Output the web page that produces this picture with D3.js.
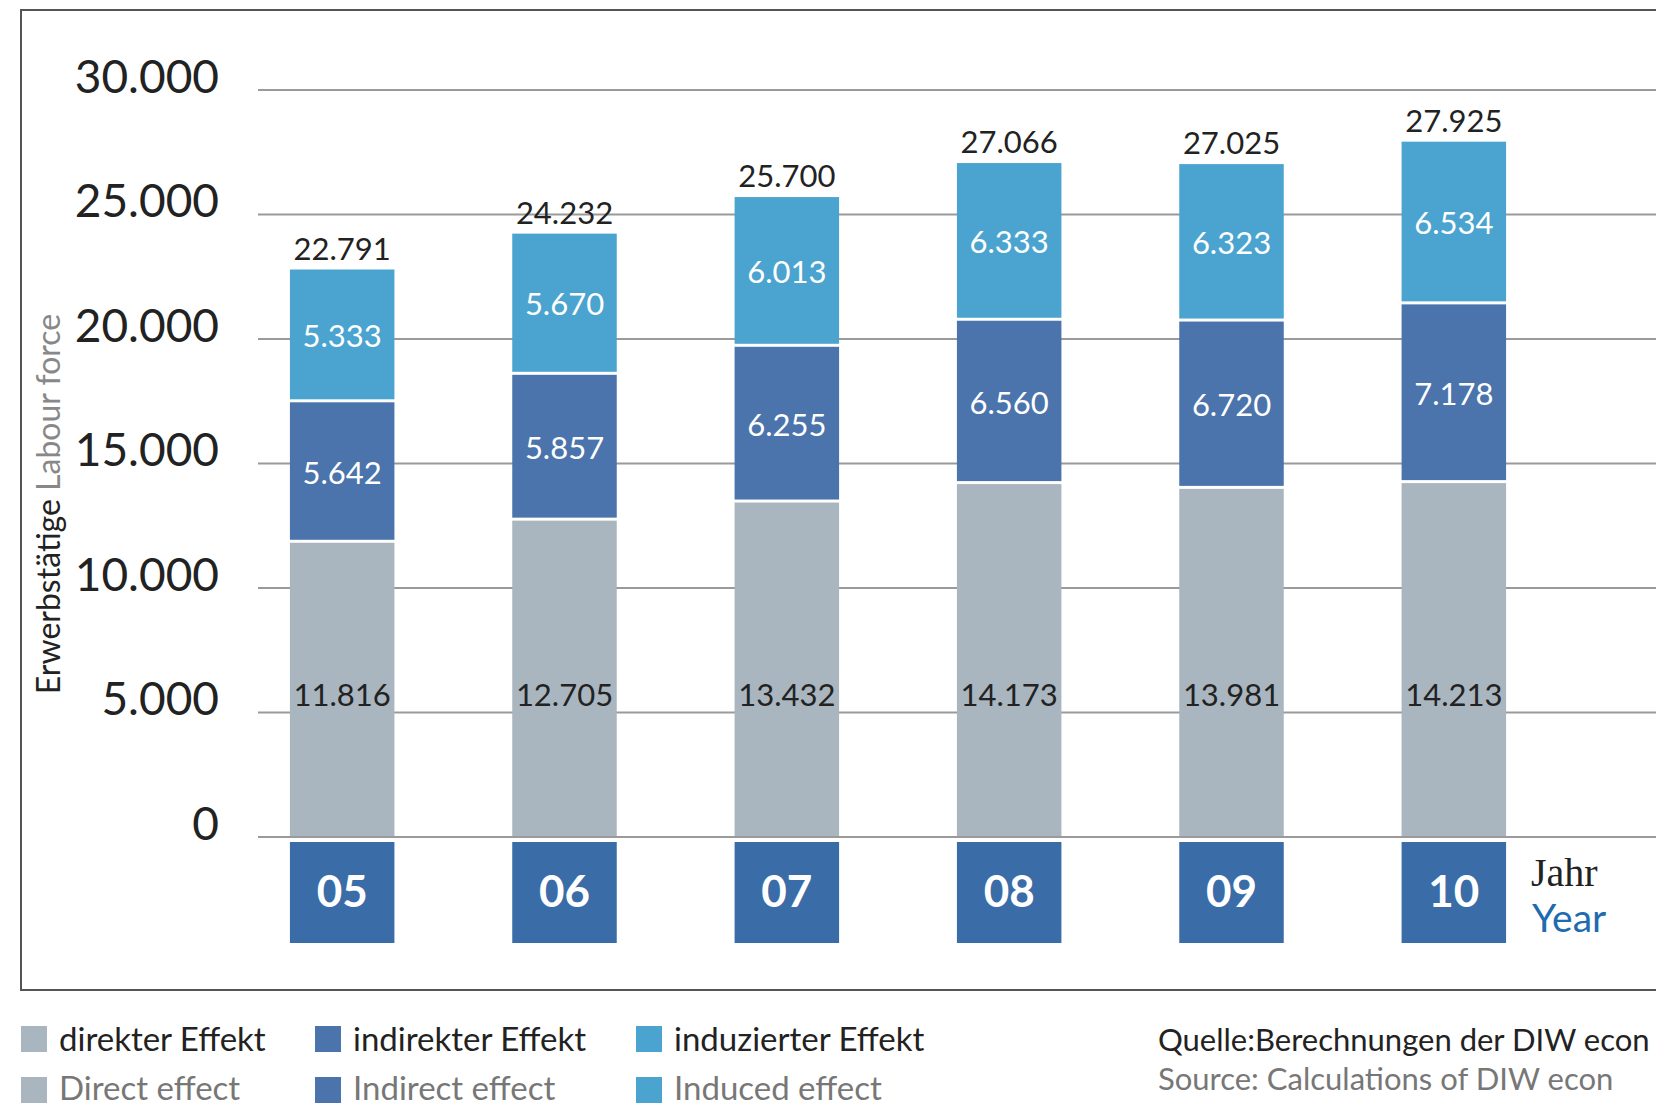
<!DOCTYPE html>
<html>
<head>
<meta charset="utf-8">
<script src="https://cdn.jsdelivr.net/npm/d3@7"></script>
<style>
  html, body { margin: 0; padding: 0; background: #fff; }
  svg { display: block; font-family: Lato, "Open Sans", sans-serif; }
</style>
</head>
<body>
<svg id="svg"></svg>
<script>
var width = 1656;
var height = 1106;

// data
var years = ["05", "06", "07", "08", "09", "10"];
var direct   = [11816, 12705, 13432, 14173, 13981, 14213];
var indirect = [5642, 5857, 6255, 6560, 6720, 7178];
var induced  = [5333, 5670, 6013, 6333, 6323, 6534];
var totals   = [22791, 24232, 25700, 27066, 27025, 27925];
var yTicks   = [0, 5000, 10000, 15000, 20000, 25000, 30000];

var seriesKeys = ["direct", "indirect", "induced"];
var colors = { direct: "#a9b5bf", indirect: "#4a74ab", induced: "#4ba4d0" };
var legendDe = ["direkter Effekt", "indirekter Effekt", "induzierter Effekt"];
var legendEn = ["Direct effect", "Indirect effect", "Induced effect"];

var fmt = function(v){ return d3.format(",")(v).replace(/,/g, "."); };

var svg = d3.select("#svg").attr("width", width).attr("height", height);

var x = d3.scaleBand().domain(years).range([231, 1565]).paddingInner(0.53).paddingOuter(0.265);
var y = d3.scaleLinear().domain([0, 30000]).range([837, 90]);

// frame
svg.append("path")
    .attr("d", "M" + width + ",10 L21,10 L21,990 L" + width + ",990")
    .attr("fill", "none")
    .attr("stroke", "#555")
    .attr("stroke-width", 2);

// grid + tick labels
var yAxis = d3.axisLeft(y).tickValues(yTicks).tickSize(0).tickFormat(fmt);
var gAxis = svg.append("g").attr("transform", "translate(219,0)").call(yAxis);
gAxis.select(".domain").remove();
gAxis.selectAll("text")
    .attr("x", 0)
    .attr("dy", "0.05em")
    .attr("font-size", 46)
    .attr("font-family", "Lato, sans-serif")
    .attr("fill", "#222");

svg.append("g").selectAll("line").data(yTicks).join("line")
    .attr("x1", 258).attr("x2", width)
    .attr("y1", function(d){ return y(d); })
    .attr("y2", function(d){ return y(d); })
    .attr("stroke", "#9a9a9a")
    .attr("stroke-width", 2);

// stacked bars
var table = years.map(function(yr, i){
    return { year: yr, direct: direct[i], indirect: indirect[i], induced: induced[i], total: totals[i] };
});
var stack = d3.stack().keys(seriesKeys)(table);
var gap = 3;

var layers = svg.append("g").selectAll("g").data(stack).join("g")
    .attr("fill", function(d){ return colors[d.key]; });

layers.selectAll("rect").data(function(d){ return d.map(function(p){ p.key = d.key; return p; }); }).join("rect")
    .attr("x", function(d){ return x(d.data.year); })
    .attr("width", x.bandwidth())
    .attr("y", function(d){ return y(d[1]); })
    .attr("height", function(d){
        var h = y(d[0]) - y(d[1]);
        return d[0] > 0 ? h - gap : h - 1;
    });

// segment labels
layers.selectAll("text").data(function(d){ return d; }).join("text")
    .attr("x", function(d){ return x(d.data.year) + x.bandwidth() / 2; })
    .attr("y", function(d){
        if (d.key === "direct") return y(5700);
        return (y(d[0]) + y(d[1])) / 2;
    })
    .attr("dy", "0.36em")
    .attr("text-anchor", "middle")
    .attr("font-size", 31)
    .attr("fill", function(d){ return d.key === "direct" ? "#222" : "#fff"; })
    .text(function(d){ return fmt(d.data[d.key]); });

// totals
svg.append("g").selectAll("text").data(table).join("text")
    .attr("x", function(d){ return x(d.year) + x.bandwidth() / 2; })
    .attr("y", function(d){ return y(d.total) - 10; })
    .attr("text-anchor", "middle")
    .attr("font-size", 31)
    .attr("fill", "#222")
    .text(function(d){ return fmt(d.total); });

// year boxes
var yb = svg.append("g").selectAll("g").data(years).join("g");
yb.append("rect")
    .attr("x", function(d){ return x(d); })
    .attr("width", x.bandwidth())
    .attr("y", 842)
    .attr("height", 101)
    .attr("fill", "#3a6ca8");
yb.append("text")
    .attr("x", function(d){ return x(d) + x.bandwidth() / 2; })
    .attr("y", 891)
    .attr("dy", "0.36em")
    .attr("text-anchor", "middle")
    .attr("font-size", 44)
    .attr("font-weight", "bold")
    .attr("fill", "#fff")
    .text(function(d){ return d; });

svg.append("text").attr("x", 1531).attr("y", 886)
    .attr("font-size", 40).attr("font-family", "'Liberation Serif', serif").attr("fill", "#222").text("Jahr");
svg.append("text").attr("x", 1532).attr("y", 932)
    .attr("font-size", 39).attr("fill", "#1d6bb0").text("Year");

// y axis title
var yt = svg.append("text")
    .attr("transform", "translate(60,504) rotate(-90)")
    .attr("text-anchor", "middle")
    .attr("font-size", 32);
yt.append("tspan").attr("fill", "#222").text("Erwerbstätige ");
yt.append("tspan").attr("fill", "#888").text("Labour force");

// legend
var legX = [21, 315, 636];
var lg = svg.append("g").selectAll("g").data(seriesKeys).join("g")
    .attr("transform", function(d, i){ return "translate(" + legX[i] + ",0)"; });
lg.append("rect").attr("x", 0).attr("y", 1026).attr("width", 26).attr("height", 26)
    .attr("fill", function(d){ return colors[d]; });
lg.append("rect").attr("x", 0).attr("y", 1077).attr("width", 26).attr("height", 26)
    .attr("fill", function(d){ return colors[d]; });
lg.append("text").attr("x", 38).attr("y", 1051).attr("font-size", 33).attr("fill", "#222")
    .text(function(d, i){ return legendDe[i]; });
lg.append("text").attr("x", 38).attr("y", 1100).attr("font-size", 33).attr("fill", "#777")
    .text(function(d, i){ return legendEn[i]; });

// source
svg.append("text").attr("x", 1158).attr("y", 1051).attr("font-size", 31).attr("fill", "#222")
    .text("Quelle:Berechnungen der DIW econ");
svg.append("text").attr("x", 1158).attr("y", 1090).attr("font-size", 31).attr("fill", "#777")
    .text("Source: Calculations of DIW econ");
</script>
</body>
</html>
